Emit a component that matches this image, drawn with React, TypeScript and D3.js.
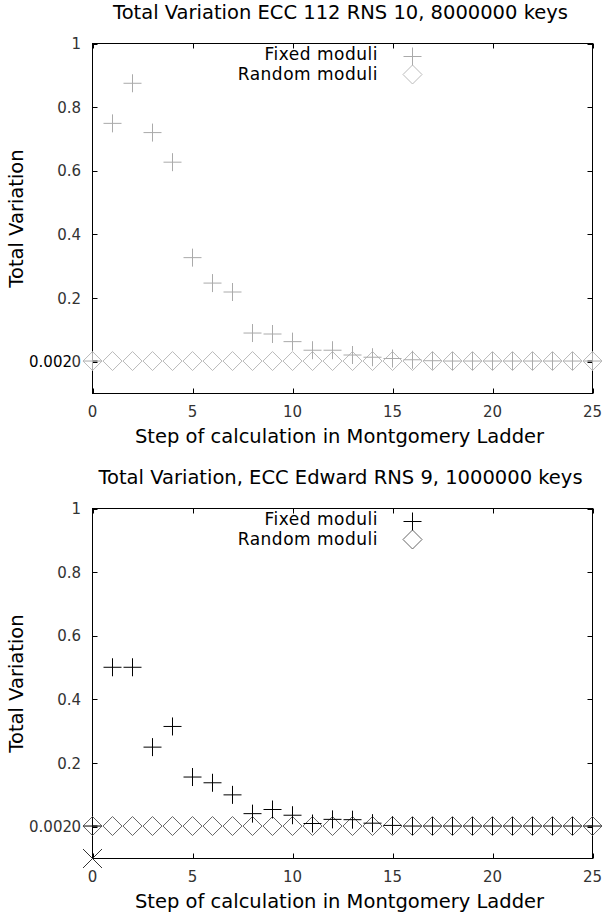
import React from "react";
import * as d3 from "d3";

// Ladder steps on the x axis
const steps = [0, 1, 2, 3, 4, 5, 6, 7, 8, 9, 10, 11, 12, 13, 14, 15, 16, 17, 18, 19, 20, 21, 22, 23, 24, 25];

// ECC 112, RNS 10, 8000000 keys
const eccFixed = [0.002, 0.749, 0.875, 0.72, 0.627, 0.327, 0.247, 0.219, 0.09, 0.087, 0.063, 0.036, 0.036, 0.021, 0.014, 0.01, 0.006, 0.003, 0.002, 0.002, 0.002, 0.002, 0.002, 0.002, 0.002, 0.002];
const eccRandom = [0.002, 0.002, 0.002, 0.002, 0.002, 0.002, 0.002, 0.002, 0.002, 0.002, 0.002, 0.002, 0.002, 0.002, 0.002, 0.002, 0.002, 0.002, 0.002, 0.002, 0.002, 0.002, 0.002, 0.002, 0.002, 0.002];

// ECC Edward, RNS 9, 1000000 keys
const edwFixed = [0.002, 0.501, 0.501, 0.25, 0.315, 0.156, 0.138, 0.1, 0.041, 0.054, 0.036, 0.01, 0.023, 0.022, 0.011, 0.004, 0.002, 0.002, 0.002, 0.002, 0.002, 0.002, 0.002, 0.002, 0.002, 0.002];
const edwRandom = [0.002, 0.002, 0.002, 0.002, 0.002, 0.002, 0.002, 0.002, 0.002, 0.002, 0.002, 0.002, 0.002, 0.002, 0.002, 0.002, 0.002, 0.002, 0.002, 0.002, 0.002, 0.002, 0.002, 0.002, 0.002, 0.002];
// stray point sitting on the lower-left corner of the second plot
const edwCorner = [{ step: 0, value: -0.1 }];

const xTicks = [0, 5, 10, 15, 20, 25];
const yTicks = [1, 0.8, 0.6, 0.4, 0.2, 0];
const yTickLabels = ["1", "0.8", "0.6", "0.4", "0.2", "0"];
const smallTick = 0.002;
const smallTickLabel = "0.002";

const FONT = "DejaVu Sans, sans-serif";

type ChartProps = {
  top: number;
  title: string;
  fixed: number[];
  random: number[];
  fixedColor: string;
  randomColor: string;
  smallLabelColor: string;
  corner?: { step: number; value: number }[];
};

function plus(x: number, y: number, r: number) {
  return `M${x - r},${y}H${x + r}M${x},${y - r}V${y + r}`;
}
function diamond(x: number, y: number, r: number) {
  return `M${x - r},${y}L${x},${y - r}L${x + r},${y}L${x},${y + r}Z`;
}
function cross(x: number, y: number, r: number) {
  return `M${x - r},${y - r}L${x + r},${y + r}M${x - r},${y + r}L${x + r},${y - r}`;
}

function Chart({ top, title, fixed, random, fixedColor, randomColor, smallLabelColor, corner }: ChartProps) {
  const left = 92.5;
  const right = 592.5;
  const plotTop = top + 0.5;
  const plotBottom = top + 350.5;
  const x = d3.scaleLinear().domain([0, 25]).range([left, right]);
  const y = d3.scaleLinear().domain([-0.1, 1]).range([plotBottom, plotTop]);
  const tickLen = 5;
  const mid = (left + right) / 2;

  return (
    <g>
      <text x={mid - 2} y={top - 24} fontSize={19.5} textAnchor="middle" fill="#000" fontFamily={FONT}>
        {title}
      </text>

      {/* frame */}
      <rect x={left} y={plotTop} width={right - left} height={plotBottom - plotTop} fill="none" stroke="#000" strokeWidth={1} />

      {/* x ticks and labels */}
      {xTicks.map((t) => (
        <g key={"x" + t}>
          <line x1={Math.round(x(t)) + 0.5} x2={Math.round(x(t)) + 0.5} y1={plotBottom} y2={plotBottom - tickLen} stroke="#000" />
          <line x1={Math.round(x(t)) + 0.5} x2={Math.round(x(t)) + 0.5} y1={plotTop} y2={plotTop + tickLen} stroke="#000" />
          <text x={x(t)} y={plotBottom + 23.5} fontSize={15} textAnchor="middle" fill="#333" fontFamily={FONT}>
            {t}
          </text>
        </g>
      ))}

      {/* y ticks and labels */}
      {yTicks.map((t, i) => (
        <g key={"y" + t}>
          <line x1={left} x2={left + tickLen} y1={Math.round(y(t)) + 0.5} y2={Math.round(y(t)) + 0.5} stroke="#000" />
          <line x1={right} x2={right - tickLen} y1={Math.round(y(t)) + 0.5} y2={Math.round(y(t)) + 0.5} stroke="#000" />
          <text x={81} y={y(t) + 5.5} fontSize={15} textAnchor="end" fill="#333" fontFamily={FONT}>
            {yTickLabels[i]}
          </text>
        </g>
      ))}
      <line x1={left} x2={left + tickLen} y1={y(smallTick)} y2={y(smallTick)} stroke="#000" />
      <line x1={right} x2={right - tickLen} y1={y(smallTick)} y2={y(smallTick)} stroke="#000" />
      <text x={72} y={y(smallTick) + 5.5} fontSize={15} textAnchor="end" fill={smallLabelColor} fontFamily={FONT}>
        {smallTickLabel}
      </text>

      {/* axis titles */}
      <text x={mid - 3} y={plotBottom + 49} fontSize={19.5} textAnchor="middle" fill="#000" fontFamily={FONT}>
        Step of calculation in Montgomery Ladder
      </text>
      <text
        transform={`translate(23, ${(plotTop + plotBottom) / 2}) rotate(-90)`}
        fontSize={19.5}
        textAnchor="middle"
        fill="#000"
        fontFamily={FONT}
      >
        Total Variation
      </text>

      {/* legend */}
      <text x={378} y={top + 16.5} fontSize={17} letterSpacing={0.5} textAnchor="end" fill="#000" fontFamily={FONT}>
        Fixed moduli
      </text>
      <path d={plus(412.5, top + 13.5, 9)} stroke={fixedColor} fill="none" />
      <text x={378} y={top + 36.5} fontSize={17} letterSpacing={0.5} textAnchor="end" fill="#000" fontFamily={FONT}>
        Random moduli
      </text>
      <path d={diamond(412.5, top + 31.5, 9.5)} stroke={randomColor} fill="none" />

      {/* random moduli series */}
      {random.map((v, i) => (
        <path key={"r" + i} d={diamond(x(steps[i]), y(v), 9.5)} stroke={randomColor} fill="none" />
      ))}
      {/* fixed moduli series */}
      {fixed.map((v, i) => (
        <path key={"f" + i} d={plus(x(steps[i]), y(v), 9)} stroke={fixedColor} fill="none" />
      ))}
      {corner &&
        corner.map((p, i) => (
          <path key={"c" + i} d={cross(x(p.step), y(p.value), 9.5)} stroke="#333" fill="none" />
        ))}
    </g>
  );
}

export default function App() {
  return (
    <svg width={602} height={917} style={{ position: "absolute", left: 0, top: 0, background: "#fff" }}>
      <rect width={602} height={917} fill="#fff" />
      <Chart
        top={43}
        title="Total Variation ECC 112 RNS 10, 8000000 keys"
        fixed={eccFixed}
        random={eccRandom}
        fixedColor="#aaa"
        randomColor="#bbb"
        smallLabelColor="#000"
      />
      <Chart
        top={508}
        title="Total Variation, ECC Edward RNS 9, 1000000 keys"
        fixed={edwFixed}
        random={edwRandom}
        fixedColor="#000"
        randomColor="#666"
        smallLabelColor="#333"
        corner={edwCorner}
      />
    </svg>
  );
}
